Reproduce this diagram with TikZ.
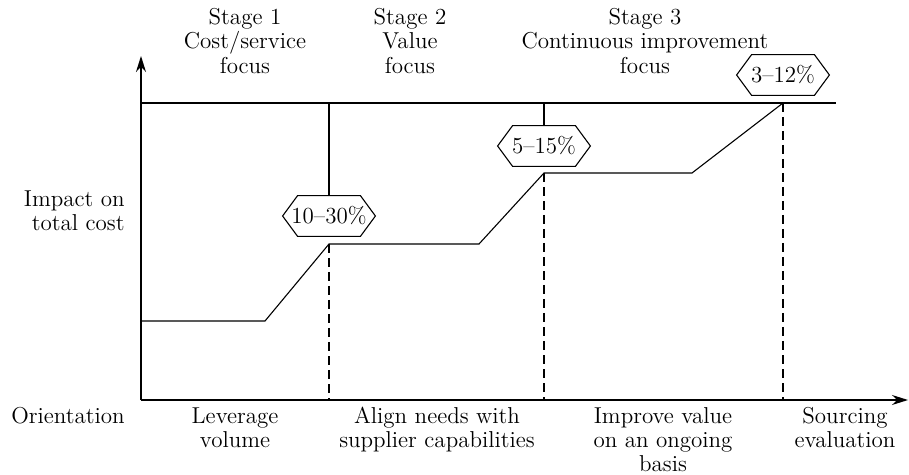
\documentclass[tikz,border=0pt]{standalone}
\usetikzlibrary{arrows.meta}
\begin{document}
\begin{tikzpicture}[x=0.5pt,y=-0.5pt,
  axis/.style={line width=0.7pt},
  stepline/.style={line width=0.55pt},
  guide/.style={line width=0.55pt,dash pattern=on 4.5pt off 2.5pt},
  hexa/.style={minimum height=20pt,minimum width=46pt,inner sep=0pt,font=\fontsize{11.5}{12}\selectfont},
  lbl/.style={align=center,font=\fontsize{11.5}{12.2}\selectfont,inner sep=0pt}]
\useasboundingbox (0,0) rectangle (909,475);
% axes
\coordinate (O) at (141,400);
\coordinate (ytip) at (141,56);
\coordinate (xtip) at (908,400);
\coordinate (tl) at (141,103);
\coordinate (tr) at (836,103);
\draw[axis,-{Stealth[length=8pt,width=5pt]}] (O) -- (ytip);
\draw[axis,-{Stealth[length=8pt,width=5pt]}] (O) -- (xtip);
\draw[axis] (tl) -- (tr);
% step line
\coordinate (p0) at (141,321);
\coordinate (p1) at (265,321);
\coordinate (p2) at (329,244);
\coordinate (p3) at (479,244);
\coordinate (p4) at (544,173);
\coordinate (p5) at (692,173);
\coordinate (p6) at (783,103);
\draw[stepline] (p0) -- (p1) -- (p2) -- (p3) -- (p4) -- (p5) -- (p6);
% hexagons
\node[hexa] (h1) at (329,216) {10--30\%};
\node[hexa] (h2) at (544,146) {5--15\%};
\node[hexa] (h3) at (783,75) {3--12\%};
\foreach \h in {h1,h2,h3}
  \draw[stepline,line join=miter] (\h.west) -- ([xshift=7.5pt]\h.north west) -- ([xshift=-7.5pt]\h.north east)
    -- (\h.east) -- ([xshift=-7.5pt]\h.south east) -- ([xshift=7.5pt]\h.south west) -- cycle;
\coordinate (t1) at (329,103);
\coordinate (t2) at (544,103);
\draw[stepline] (t1) -- (h1.north);
\draw[stepline] (t2) -- (h2.north);
% dashed guides
\coordinate (b1) at (329,400);
\coordinate (b2) at (544,400);
\coordinate (b3) at (783,400);
\draw[guide] (p2) -- (b1);
\draw[guide] (p4) -- (b2);
\draw[guide] (p6) -- (b3);
% top labels
\node[lbl,anchor=north] (s1) at (245,8) {Stage 1\\Cost/service\\focus};
\node[lbl,anchor=north] (s2) at (410,8) {Stage 2\\Value\\focus};
\node[lbl,anchor=north] (s3) at (645,8) {Stage 3\\Continuous improvement\\focus};
% left labels
\node[lbl,anchor=north east,align=right] (imp) at (125,190) {Impact on\\total cost};
\node[lbl,anchor=north east] (ori) at (125,407) {Orientation};
% bottom labels
\node[lbl,anchor=north,font=\fontsize{11.5}{12}\selectfont] (o1) at (235,407) {Leverage\\volume};
\node[lbl,anchor=north,font=\fontsize{11.5}{12}\selectfont] (o2) at (437,407) {Align needs with\\supplier capabilities};
\node[lbl,anchor=north,font=\fontsize{11.5}{12}\selectfont] (o3) at (663,407) {Improve value\\on an ongoing\\basis};
\node[lbl,anchor=north,font=\fontsize{11.5}{12}\selectfont] (o4) at (845,407) {Sourcing\\evaluation};
\end{tikzpicture}
\end{document}
